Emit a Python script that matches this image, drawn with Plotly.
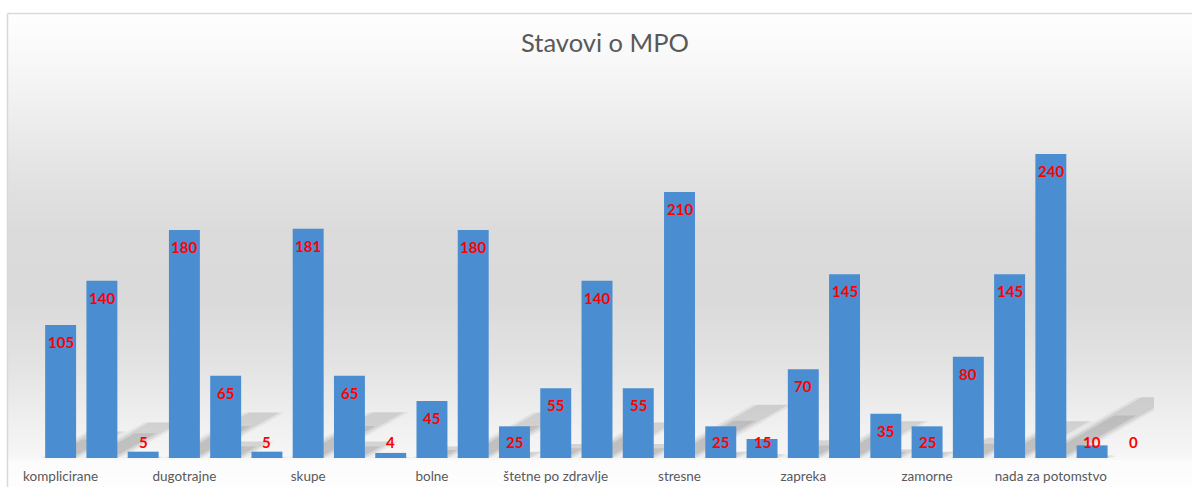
import plotly.graph_objects as go

categories = ["komplicirane", "dugotrajne", "skupe", "bolne", "štetne po zdravlje",
              "stresne", "zapreka", "zamorne", "nada za potomstvo"]
values = [105, 140, 5,
          180, 65, 5,
          181, 65, 4,
          45, 180, 25,
          55, 140, 55,
          210, 25, 15,
          70, 145, 35,
          25, 80, 145,
          240, 10, 0]
title_text = "Stavovi o MPO"

W, H = 1192, 487
ML, MR, MT, MB = 40, 38, 130, 29
plot_w = W - ML - MR
plot_h = H - MT - MB
px_per_unit = 1.2667
y_max = plot_h / px_per_unit
cat_px = plot_w / len(values)
bar_w = 0.75

def px_to_paper_x(px):
    return (px - ML) / plot_w

def py_to_paper_y(py):
    return (H - MB - py) / plot_h

x_idx = list(range(len(values)))

fig = go.Figure()
fig.add_trace(go.Bar(
    x=x_idx, y=values,
    marker=dict(color="#4a8dd1", line=dict(width=0)),
    width=bar_w, hoverinfo="y",
))

shapes = []
# background gradient (stripes)
stops = [(13, 254), (60, 248), (120, 237), (180, 226), (230, 219), (300, 218),
         (360, 226), (420, 239), (456, 246), (462, 252), (487, 253)]
def grey_at(py):
    for (a, ca), (b, cb) in zip(stops, stops[1:]):
        if a <= py <= b:
            t = (py - a) / (b - a)
            return round(ca + (cb - ca) * t)
    return 253
step = 3
py = 13
while py < H:
    g = grey_at(py + step / 2)
    shapes.append(dict(type="rect", xref="paper", yref="paper", layer="below",
                       x0=px_to_paper_x(7), x1=px_to_paper_x(W + 5),
                       y0=py_to_paper_y(py + step + 0.5), y1=py_to_paper_y(py),
                       fillcolor=f"rgb({g},{g},{g})", line=dict(width=0)))
    py += step
# chart border
shapes.append(dict(type="line", xref="paper", yref="paper", layer="below",
                   x0=px_to_paper_x(7.5), x1=px_to_paper_x(W + 5),
                   y0=py_to_paper_y(13.5), y1=py_to_paper_y(13.5),
                   line=dict(color="#d9d9d9", width=1.5)))
shapes.append(dict(type="line", xref="paper", yref="paper", layer="below",
                   x0=px_to_paper_x(7.5), x1=px_to_paper_x(7.5),
                   y0=py_to_paper_y(13.5), y1=py_to_paper_y(H + 5),
                   line=dict(color="#d9d9d9", width=1.5)))
# perspective shadows behind bars (soft, layered)
for i, v in enumerate(values):
    if v <= 0:
        continue
    hpx = v * px_per_unit
    dx = 0.35 * hpx / cat_px
    dy = 0.20 * hpx / px_per_unit
    for k, op in ((1.3, 0.05), (1.0, 0.08), (0.7, 0.09)):
        x0 = i - bar_w / 2 * k
        x1 = i + bar_w / 2 * k
        kk = min(k, 1.0)
        path = (f"M{x0},0 L{x1},0 L{x1 + dx * kk},{dy * kk} "
                f"L{x0 + dx * kk},{dy * kk} Z")
        shapes.append(dict(type="path", xref="x", yref="y", layer="below",
                           path=path, fillcolor=f"rgba(0,0,0,{op})",
                           line=dict(width=0)))

annotations = []
thr_px = 33
for i, v in enumerate(values):
    ypos = max(v, thr_px / px_per_unit)
    annotations.append(dict(x=i, y=ypos, xref="x", yref="y", text=f"<b>{v}</b>",
                            showarrow=False, yshift=-17, yanchor="middle",
                            font=dict(family="Lato, Open Sans, sans-serif",
                                      size=15, color="#ff0000")))

fig.update_layout(
    width=W, height=H,
    margin=dict(l=ML, r=MR, t=MT, b=MB),
    paper_bgcolor="white", plot_bgcolor="rgba(0,0,0,0)",
    title=dict(text=title_text, x=605 / W, xanchor="center", xref="container",
               y=1 - 43 / H, yanchor="middle", yref="container", automargin=False,
               font=dict(family="Lato, Open Sans, sans-serif", size=25.5, color="#595959")),
    showlegend=False,
    bargap=0.25,
    xaxis=dict(range=[-0.5, len(values) - 0.5], tickmode="array",
               tickvals=x_idx[::3], ticktext=categories, automargin=False,
               showgrid=False, zeroline=False, showline=False, ticks="",
               ticklabelstandoff=8,
               tickfont=dict(family="Lato, Open Sans, sans-serif", size=13.5, color="#595959")),
    yaxis=dict(range=[0, y_max], visible=False, showgrid=False, zeroline=False,
               automargin=False),
    shapes=shapes,
    annotations=annotations,
)

fig.write_html("out.html", config={"displayModeBar": False},
               post_script="document.body.style.margin='0';document.body.style.overflow='hidden';")
